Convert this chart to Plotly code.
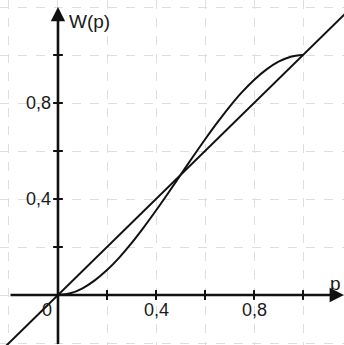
import plotly.graph_objects as go

# Data
p_vals = [0, 0.05, 0.1, 0.15, 0.2, 0.25, 0.3, 0.35, 0.4, 0.45, 0.5,
          0.55, 0.6, 0.65, 0.7, 0.75, 0.8, 0.85, 0.9, 0.95, 1.0]
w_vals = [0, 0.007, 0.028, 0.061, 0.104, 0.156, 0.216, 0.282, 0.352, 0.425, 0.5,
          0.575, 0.648, 0.718, 0.784, 0.844, 0.896, 0.939, 0.972, 0.993, 1.0]
diag_p = [-0.3, 1.3]
diag_w = [-0.3, 1.3]
tick_positions = [0.2, 0.4, 0.6, 0.8, 1.0]
x_tick_labels = {0.4: "0,4", 0.8: "0,8"}
y_tick_labels = {0.4: "0,4", 0.8: "0,8"}

FONT = "Liberation Sans, Arial, sans-serif"
TXT = "#1a1a1a"

fig = go.Figure()
# diagonal W = p
fig.add_trace(go.Scatter(x=diag_p, y=diag_w, mode="lines",
                         line=dict(color="#111", width=2), hoverinfo="skip"))
# S-curve
fig.add_trace(go.Scatter(x=p_vals, y=w_vals, mode="lines",
                         line=dict(color="#111", width=2, shape="spline"), hoverinfo="skip"))
# tick marks on axes
fig.add_trace(go.Scatter(x=tick_positions, y=[0]*len(tick_positions), mode="markers",
                         marker=dict(symbol="line-ns", size=7, line=dict(color="#111", width=2)),
                         hoverinfo="skip"))
fig.add_trace(go.Scatter(x=[0]*len(tick_positions), y=tick_positions, mode="markers",
                         marker=dict(symbol="line-ew", size=7, line=dict(color="#111", width=2)),
                         hoverinfo="skip"))

# axes with arrows
fig.add_annotation(x=1.167, y=0, ax=-0.2, ay=0, xref="x", yref="y", axref="x", ayref="y",
                   showarrow=True, arrowhead=2, arrowsize=1.1, arrowwidth=2.6, arrowcolor="#111", text="")
fig.add_annotation(x=0, y=1.2, ax=0, ay=-0.21, xref="x", yref="y", axref="x", ayref="y",
                   showarrow=True, arrowhead=2, arrowsize=1.1, arrowwidth=2.6, arrowcolor="#111", text="")

for v, lab in x_tick_labels.items():
    fig.add_annotation(x=v, y=-0.062, text=lab, showarrow=False, xref="x", yref="y",
                       font=dict(family=FONT, size=18, color=TXT))
for v, lab in y_tick_labels.items():
    fig.add_annotation(x=-0.022, y=v, text=lab, showarrow=False, xref="x", yref="y",
                       xanchor="right", font=dict(family=FONT, size=18, color=TXT))
fig.add_annotation(x=-0.045, y=-0.062, text="0", showarrow=False, xref="x", yref="y",
                   font=dict(family=FONT, size=18, color=TXT))
fig.add_annotation(x=0.035, y=1.14, text="W(p)", showarrow=False, xref="x", yref="y",
                   xanchor="left", font=dict(family=FONT, size=19, color=TXT))
fig.add_annotation(x=1.165, y=0.05, text="p", showarrow=False, xref="x", yref="y",
                   xanchor="right", font=dict(family=FONT, size=19, color=TXT))

grid = dict(showgrid=True, gridcolor="#dedede", griddash="dash", gridwidth=1,
            tick0=0, dtick=0.2, showticklabels=False, zeroline=False,
            showline=False, ticks="", fixedrange=True)
fig.update_xaxes(range=[-0.2367, 1.1673], **grid)
fig.update_yaxes(range=[-0.2083, 1.2292], **grid)
fig.update_layout(width=344, height=345, margin=dict(l=0, r=0, t=0, b=0),
                  plot_bgcolor="white", paper_bgcolor="white", showlegend=False)
fig.write_html("out.html", config={"displayModeBar": False},
               post_script="document.body.style.margin='0px';document.body.style.overflow='hidden';")
